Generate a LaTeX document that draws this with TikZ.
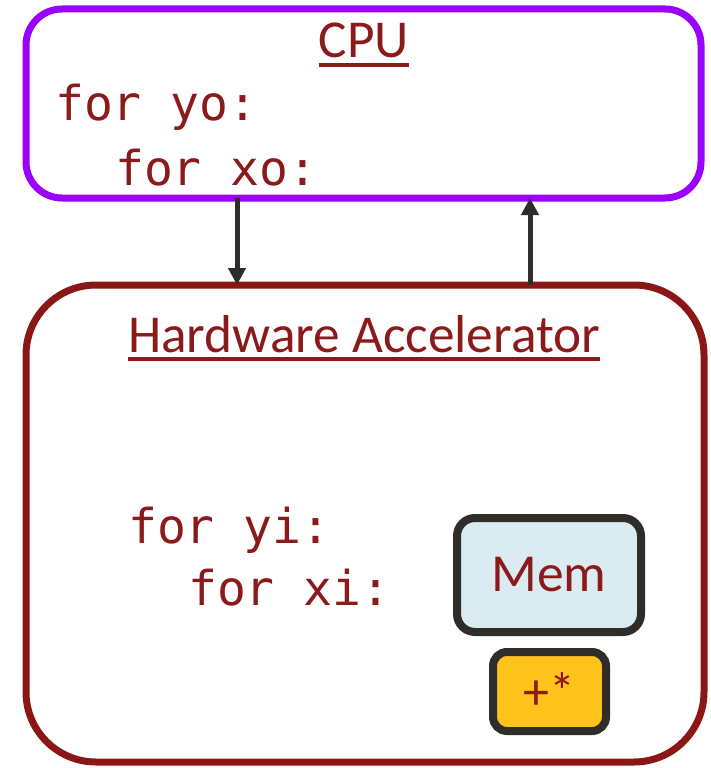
\documentclass[tikz,border=0pt]{standalone}
\usepackage{fontspec}
\setmainfont{Carlito}
\newfontfamily\codefont{DejaVu Sans Mono}
\usetikzlibrary{arrows.meta}
\definecolor{cpupurple}{HTML}{9B00FF}
\definecolor{hwred}{HTML}{8B1616}
\definecolor{txtred}{HTML}{8B1A1A}
\definecolor{darkline}{HTML}{2F2D2A}
\definecolor{memblue}{HTML}{DAEBF2}
\definecolor{alugold}{HTML}{FDC31A}
\tikzset{
  unitbox/.style={draw, rounded corners=#1, inner sep=0pt, outer sep=0pt},
  title/.style={text=txtred, inner sep=0pt, anchor=base, font=\fontsize{53.3}{60}\selectfont},
  code/.style={text=txtred, inner sep=0pt, anchor=base west, font=\codefont\fontsize{48}{56}\selectfont},
  uline/.style={draw=txtred, line width=3.5pt},
  flow/.style={draw=darkline, line width=5pt, -{Triangle[length=17pt,width=17pt]}}
}
\begin{document}
\begin{tikzpicture}[x=1pt,y=-1pt]
\useasboundingbox (0,0) rectangle (710,768);

% host processor
\node[unitbox=36pt, draw=cpupurple, line width=7pt, minimum width=675pt, minimum height=189pt] (cpu) at (363.5,103.5) {};
\node[title] (cputitle) at (364,58) {CPU};
\draw[uline] ([yshift=-7pt]cputitle.base west) -- ([yshift=-7pt]cputitle.base east);
\node[code] (yo) at (55,120) {for yo:};
\node[code] (xo) at (115,185) {for xo:};

% accelerator
\node[unitbox=70pt, draw=hwred, line width=7pt, minimum width=678pt, minimum height=477pt] (hw) at (365,523.5) {};
\node[title] (hwtitle) at (364,352) {Hardware Accelerator};
\draw[uline] ([yshift=-7pt]hwtitle.base west) -- ([yshift=-7pt]hwtitle.base east);
\node[code] (yi) at (128,543) {for yi:};
\node[code] (xi) at (188,605) {for xi:};

% on-chip units
\node[unitbox=18pt, draw=darkline, fill=memblue, line width=8pt, minimum width=184pt, minimum height=114pt,
      text=txtred, font=\fontsize{53.5}{60}\selectfont] (mem) at (549,575) {Mem};
\node[unitbox=14pt, draw=darkline, fill=alugold, line width=8pt, minimum width=113pt, minimum height=79pt,
      text=txtred, font=\fontsize{52}{60}\selectfont] (alu) at (549.5,691.5) {+*};

% transfers between host and accelerator
\coordinate (down) at (237,0);
\coordinate (up) at (530,0);
\draw[flow] (cpu.south -| down) -- (hw.north -| down);
\draw[flow] (hw.north -| up) -- (cpu.south -| up);
\end{tikzpicture}
\end{document}
